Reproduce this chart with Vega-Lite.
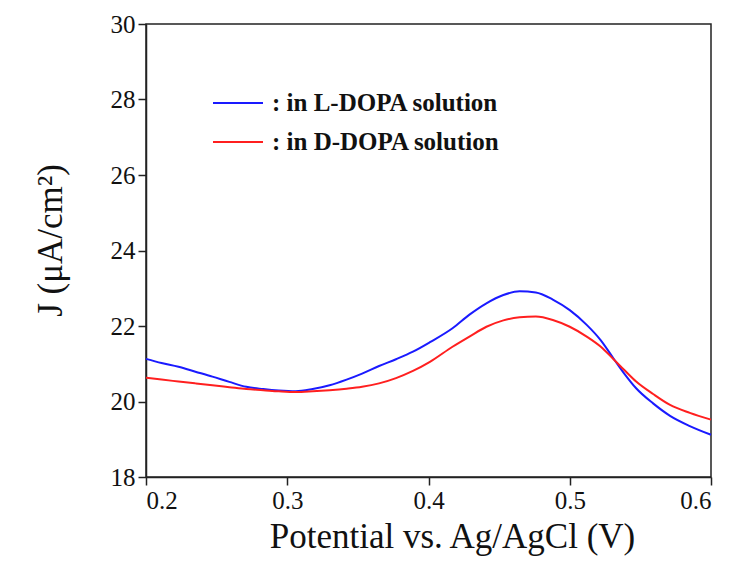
{
  "$schema": "https://vega.github.io/schema/vega-lite/v6.json",
  "width": 565,
  "height": 453,
  "autosize": {"type": "none"},
  "padding": {"left": 146, "top": 24, "right": 20, "bottom": 85},
  "config": {
    "view": {"stroke": "#222", "strokeWidth": 1.5}
  },
  "data": {
    "values": [
      {"v": 0.200, "j": 21.13, "s": "L-DOPA"},
      {"v": 0.211, "j": 21.02, "s": "L-DOPA"},
      {"v": 0.223, "j": 20.92, "s": "L-DOPA"},
      {"v": 0.235, "j": 20.79, "s": "L-DOPA"},
      {"v": 0.247, "j": 20.66, "s": "L-DOPA"},
      {"v": 0.259, "j": 20.52, "s": "L-DOPA"},
      {"v": 0.271, "j": 20.39, "s": "L-DOPA"},
      {"v": 0.283, "j": 20.33, "s": "L-DOPA"},
      {"v": 0.294, "j": 20.29, "s": "L-DOPA"},
      {"v": 0.306, "j": 20.27, "s": "L-DOPA"},
      {"v": 0.318, "j": 20.33, "s": "L-DOPA"},
      {"v": 0.330, "j": 20.43, "s": "L-DOPA"},
      {"v": 0.342, "j": 20.58, "s": "L-DOPA"},
      {"v": 0.353, "j": 20.74, "s": "L-DOPA"},
      {"v": 0.365, "j": 20.94, "s": "L-DOPA"},
      {"v": 0.377, "j": 21.12, "s": "L-DOPA"},
      {"v": 0.389, "j": 21.32, "s": "L-DOPA"},
      {"v": 0.401, "j": 21.57, "s": "L-DOPA"},
      {"v": 0.417, "j": 21.94, "s": "L-DOPA"},
      {"v": 0.429, "j": 22.30, "s": "L-DOPA"},
      {"v": 0.441, "j": 22.60, "s": "L-DOPA"},
      {"v": 0.453, "j": 22.82, "s": "L-DOPA"},
      {"v": 0.4645, "j": 22.92, "s": "L-DOPA"},
      {"v": 0.476, "j": 22.89, "s": "L-DOPA"},
      {"v": 0.488, "j": 22.70, "s": "L-DOPA"},
      {"v": 0.500, "j": 22.42, "s": "L-DOPA"},
      {"v": 0.512, "j": 22.03, "s": "L-DOPA"},
      {"v": 0.522, "j": 21.62, "s": "L-DOPA"},
      {"v": 0.531, "j": 21.14, "s": "L-DOPA"},
      {"v": 0.539, "j": 20.72, "s": "L-DOPA"},
      {"v": 0.547, "j": 20.35, "s": "L-DOPA"},
      {"v": 0.559, "j": 19.95, "s": "L-DOPA"},
      {"v": 0.571, "j": 19.62, "s": "L-DOPA"},
      {"v": 0.585, "j": 19.35, "s": "L-DOPA"},
      {"v": 0.600, "j": 19.12, "s": "L-DOPA"},
      {"v": 0.200, "j": 20.63, "s": "D-DOPA"},
      {"v": 0.211, "j": 20.58, "s": "D-DOPA"},
      {"v": 0.223, "j": 20.53, "s": "D-DOPA"},
      {"v": 0.235, "j": 20.48, "s": "D-DOPA"},
      {"v": 0.247, "j": 20.43, "s": "D-DOPA"},
      {"v": 0.259, "j": 20.38, "s": "D-DOPA"},
      {"v": 0.271, "j": 20.33, "s": "D-DOPA"},
      {"v": 0.283, "j": 20.30, "s": "D-DOPA"},
      {"v": 0.294, "j": 20.27, "s": "D-DOPA"},
      {"v": 0.306, "j": 20.25, "s": "D-DOPA"},
      {"v": 0.318, "j": 20.27, "s": "D-DOPA"},
      {"v": 0.330, "j": 20.30, "s": "D-DOPA"},
      {"v": 0.342, "j": 20.34, "s": "D-DOPA"},
      {"v": 0.353, "j": 20.39, "s": "D-DOPA"},
      {"v": 0.365, "j": 20.48, "s": "D-DOPA"},
      {"v": 0.377, "j": 20.62, "s": "D-DOPA"},
      {"v": 0.389, "j": 20.81, "s": "D-DOPA"},
      {"v": 0.401, "j": 21.05, "s": "D-DOPA"},
      {"v": 0.417, "j": 21.45, "s": "D-DOPA"},
      {"v": 0.429, "j": 21.72, "s": "D-DOPA"},
      {"v": 0.441, "j": 21.98, "s": "D-DOPA"},
      {"v": 0.453, "j": 22.15, "s": "D-DOPA"},
      {"v": 0.4645, "j": 22.23, "s": "D-DOPA"},
      {"v": 0.476, "j": 22.25, "s": "D-DOPA"},
      {"v": 0.488, "j": 22.16, "s": "D-DOPA"},
      {"v": 0.500, "j": 21.98, "s": "D-DOPA"},
      {"v": 0.512, "j": 21.72, "s": "D-DOPA"},
      {"v": 0.522, "j": 21.45, "s": "D-DOPA"},
      {"v": 0.531, "j": 21.12, "s": "D-DOPA"},
      {"v": 0.539, "j": 20.82, "s": "D-DOPA"},
      {"v": 0.547, "j": 20.53, "s": "D-DOPA"},
      {"v": 0.559, "j": 20.20, "s": "D-DOPA"},
      {"v": 0.571, "j": 19.91, "s": "D-DOPA"},
      {"v": 0.585, "j": 19.70, "s": "D-DOPA"},
      {"v": 0.600, "j": 19.52, "s": "D-DOPA"}
    ]
  },
  "mark": {"type": "line", "strokeWidth": 2, "interpolate": "monotone"},
  "encoding": {
    "x": {
      "field": "v", "type": "quantitative",
      "scale": {"domain": [0.2, 0.6], "nice": false, "zero": false},
      "axis": {
        "values": [0.2, 0.3, 0.4, 0.5, 0.6],
        "format": ".1f",
        "grid": false,
        "domainColor": "#222",
        "domainWidth": 1.5,
        "tickColor": "#222",
        "tickWidth": 1.5,
        "tickSize": 8,
        "labelFont": "Liberation Serif",
        "labelFontSize": 25,
        "labelColor": "#111",
        "labelPadding": 3,
        "title": "Potential vs. Ag/AgCl (V)",
        "titleFont": "Liberation Serif",
        "titleFontSize": 35,
        "titleFontWeight": "normal",
        "titleColor": "#111",
        "titlePadding": 6,
        "titleX": 306
      }
    },
    "y": {
      "field": "j", "type": "quantitative",
      "scale": {"domain": [18, 30], "nice": false, "zero": false},
      "axis": {
        "values": [18, 20, 22, 24, 26, 28, 30],
        "grid": false,
        "domainColor": "#222",
        "domainWidth": 1.5,
        "tickColor": "#222",
        "tickWidth": 1.5,
        "tickSize": 8,
        "labelFont": "Liberation Serif",
        "labelFontSize": 25,
        "labelColor": "#111",
        "labelPadding": 3,
        "title": "J (μA/cm²)",
        "titleFont": "Liberation Serif",
        "titleFontSize": 35,
        "titleFontWeight": "normal",
        "titleColor": "#111",
        "titlePadding": 42,
        "titleY": 216
      }
    },
    "color": {
      "field": "s", "type": "nominal",
      "scale": {"domain": ["L-DOPA", "D-DOPA"], "range": ["#1a1aff", "#ff1f1f"]},
      "legend": {
        "orient": "none",
        "legendX": 66,
        "legendY": 53,
        "title": null,
        "symbolType": "stroke",
        "symbolSize": 2500,
        "symbolStrokeWidth": 2,
        "labelExpr": "': in ' + datum.label + ' solution'",
        "labelFont": "Liberation Serif",
        "labelFontWeight": "bold",
        "labelFontSize": 25,
        "labelColor": "#111",
        "labelOffset": 8,
        "rowPadding": -18,
        "labelLimit": 400
      }
    }
  }
}
